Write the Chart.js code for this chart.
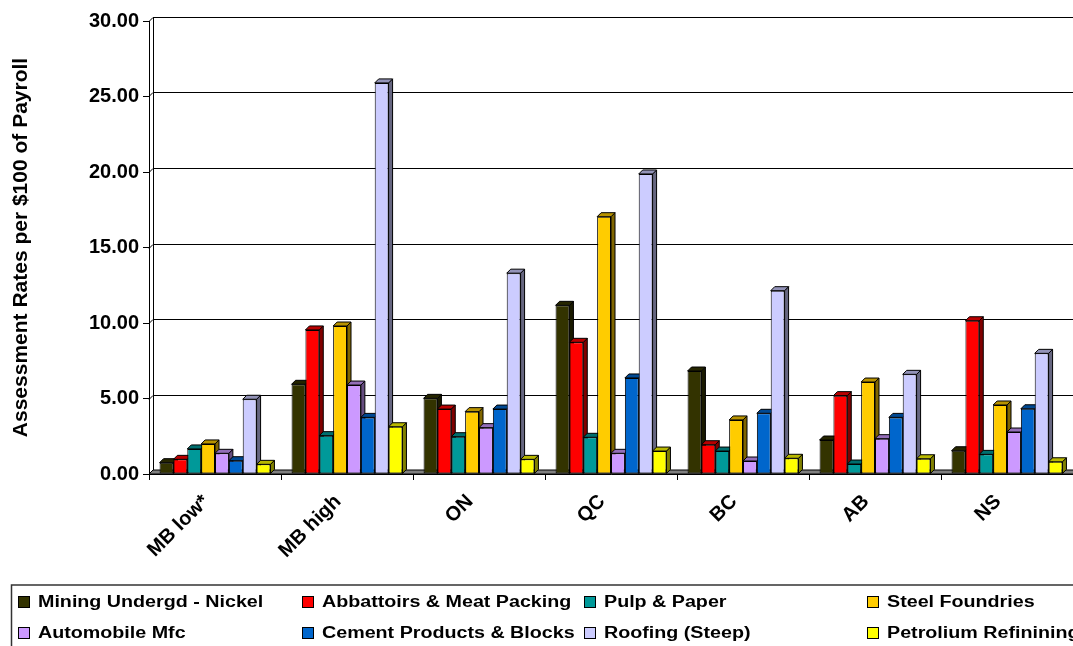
<!DOCTYPE html>
<html>
<head>
<meta charset="utf-8">
<script src="https://cdn.jsdelivr.net/npm/chart.js@4"></script>
<style>
html, body { margin: 0; padding: 0; background: #fff; }
canvas { display: block; }
</style>
</head>
<body>
<canvas id="chart" width="1073" height="646"></canvas>
<script>
const categories = ['MB low*', 'MB high', 'ON', 'QC', 'BC', 'AB', 'NS'];

const mining = [0.75, 5.94, 5.01, 11.17, 6.82, 2.25, 1.54];
const abattoirs = [0.97, 9.54, 4.30, 8.72, 1.94, 5.19, 10.15];
const pulpPaper = [1.66, 2.54, 2.47, 2.43, 1.52, 0.66, 1.30];
const steelFoundries = [1.99, 9.80, 4.13, 17.04, 3.58, 6.09, 4.57];
const automobile = [1.37, 5.89, 3.07, 1.37, 0.86, 2.34, 2.78];
const cementProducts = [0.88, 3.75, 4.30, 6.36, 4.02, 3.75, 4.32];
const roofing = [4.95, 25.90, 13.30, 19.87, 12.14, 6.60, 7.99];
const petroleum = [0.64, 3.13, 0.97, 1.52, 1.04, 1.01, 0.81];

const seriesNames = [
    'Mining Undergd - Nickel', 'Abbattoirs & Meat Packing', 'Pulp & Paper', 'Steel Foundries',
    'Automobile Mfc', 'Cement Products & Blocks', 'Roofing (Steep)', 'Petrolium Refinining'
];
const seriesData = [mining, abattoirs, pulpPaper, steelFoundries, automobile, cementProducts, roofing, petroleum];
const seriesColors = ['#333300', '#FF0000', '#009999', '#FFCC00', '#CC99FF', '#0066CC', '#CCCCFF', '#FFFF00'];

const yTitle = 'Assessment Rates per $100 of Payroll';

const FONT = "'Liberation Sans', Arial, sans-serif";
const depth = 4;

function shade(hex, f) {
    const n = parseInt(hex.slice(1), 16);
    const r = Math.round(((n >> 16) & 255) * f);
    const g = Math.round(((n >> 8) & 255) * f);
    const b = Math.round((n & 255) * f);
    return `rgb(${r},${g},${b})`;
}

function poly(ctx, pts) {
    ctx.beginPath();
    ctx.moveTo(pts[0][0], pts[0][1]);
    for (let i = 1; i < pts.length; i++) ctx.lineTo(pts[i][0], pts[i][1]);
    ctx.closePath();
    ctx.fill();
    ctx.stroke();
}

const bar3d = {
    id: 'bar3d',
    beforeDatasetsDraw(chart) {
        const { ctx, chartArea: a, scales: { y } } = chart;
        ctx.save();
        ctx.strokeStyle = '#000';
        ctx.lineWidth = 1;

        y.ticks.forEach(t => {
            if (t.value === 0) return;
            const py = Math.round(y.getPixelForValue(t.value)) + 0.5;
            ctx.beginPath();
            ctx.moveTo(a.left, py);
            ctx.lineTo(a.left + depth, py - depth);
            ctx.lineTo(a.right, py - depth);
            ctx.stroke();
        });

        ctx.beginPath();
        ctx.moveTo(a.left + depth + 0.5, a.top - depth);
        ctx.lineTo(a.left + depth + 0.5, a.bottom - depth);
        ctx.stroke();

        ctx.fillStyle = '#808080';
        poly(ctx, [[a.left, a.bottom], [a.left + depth, a.bottom - depth], [a.right + depth, a.bottom - depth], [a.right, a.bottom]]);

        chart.data.datasets.forEach((ds, i) => {
            const meta = chart.getDatasetMeta(i);
            meta.data.forEach(bar => {
                const { x, y: top, base, width } = bar.getProps(['x', 'y', 'base', 'width'], true);
                const l = x - width / 2, r = x + width / 2;
                ctx.fillStyle = shade(ds.backgroundColor, 0.5);
                poly(ctx, [[r, top], [r + depth, top - depth], [r + depth, base - depth], [r, base]]);
                ctx.fillStyle = shade(ds.backgroundColor, 0.72);
                poly(ctx, [[l, top], [l + depth, top - depth], [r + depth, top - depth], [r, top]]);
            });
        });
        ctx.restore();
    },
    afterDraw(chart) {
        const ctx = chart.ctx;
        const cols = [18, 302, 584, 867];
        const rows = [602, 633];
        ctx.save();
        ctx.strokeStyle = '#333';
        ctx.lineWidth = 1.5;
        ctx.strokeRect(11.5, 585, 1100, 100);
        ctx.font = `bold 16px ${FONT}`;
        ctx.textBaseline = 'middle';
        ctx.lineWidth = 1;
        ctx.strokeStyle = '#000';
        seriesNames.forEach((name, i) => {
            const bx = cols[i % 4], by = rows[Math.floor(i / 4)];
            ctx.fillStyle = seriesColors[i];
            ctx.fillRect(bx + 0.5, by - 5.5, 11, 11);
            ctx.strokeRect(bx + 0.5, by - 5.5, 11, 11);
            ctx.fillStyle = '#000';
            ctx.save();
            ctx.translate(bx + 20, by + 1);
            ctx.scale(1.23, 1);
            ctx.fillText(name, 0, 0);
            ctx.restore();
        });
        ctx.restore();
    }
};

new Chart(document.getElementById('chart'), {
    type: 'bar',
    data: {
        labels: categories,
        datasets: seriesData.map((data, i) => ({
            label: seriesNames[i],
            data,
            backgroundColor: seriesColors[i],
            borderColor: '#000',
            borderWidth: 1,
            borderSkipped: false,
            categoryPercentage: 0.84,
            barPercentage: 1.0
        }))
    },
    options: {
        responsive: false,
        animation: false,
        devicePixelRatio: 1,
        layout: { padding: { top: 21, left: 0, right: 0, bottom: 0 } },
        plugins: {
            legend: { display: false },
            tooltip: { enabled: false }
        },
        scales: {
            x: {
                afterFit: s => { s.height = 172; },
                grid: { offset: true, drawOnChartArea: false, tickLength: 6, color: '#000' },
                border: { display: true, color: '#000', width: 1 },
                ticks: {
                    autoSkip: false,
                    maxRotation: 45,
                    minRotation: 45,
                    padding: 10,
                    labelOffset: -9,
                    color: '#000',
                    font: { family: FONT, size: 20, weight: 'bold' }
                }
            },
            y: {
                min: 0,
                max: 30,
                afterFit: s => { s.width = 149; },
                grid: { drawOnChartArea: false, tickLength: 6, color: '#000' },
                border: { display: true, color: '#000', width: 1 },
                ticks: {
                    stepSize: 5,
                    padding: 4,
                    color: '#000',
                    font: { family: FONT, size: 20, weight: 'bold' },
                    callback: v => v.toFixed(2)
                },
                title: {
                    display: true,
                    text: yTitle,
                    color: '#000',
                    padding: { top: 9, bottom: 0 },
                    font: { family: FONT, size: 21, weight: 'bold' }
                }
            }
        }
    },
    plugins: [bar3d]
});
</script>
</body>
</html>
